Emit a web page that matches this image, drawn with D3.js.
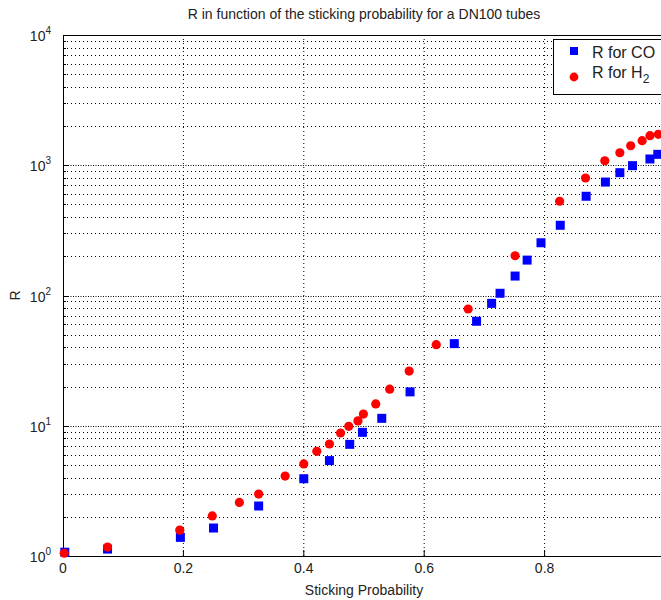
<!DOCTYPE html>
<html>
<head>
<meta charset="utf-8">
<script src="https://cdn.jsdelivr.net/npm/d3@7"></script>
<style>
  body { margin: 0; background: #fff; }
  svg text { font-family: "Liberation Sans", Arial, sans-serif; fill: #222; }
</style>
</head>
<body>
<div id="chart"></div>
<script>
// sticking probability / R values
const coX = [0.003, 0.074, 0.195, 0.25, 0.325, 0.4, 0.4426, 0.4763, 0.4974, 0.5295, 0.5765,
  0.65, 0.687, 0.712, 0.726, 0.751, 0.771, 0.794, 0.826, 0.869, 0.901, 0.925, 0.946, 0.975, 0.988]
const coR = [1.07, 1.13, 1.39, 1.64, 2.42, 3.92, 5.4, 7.2, 8.9, 11.4, 18.2,
  42.7, 63.4, 87, 104, 141, 187, 254, 346, 578, 743, 877, 993, 1117, 1213]

const h2X = [0.002, 0.074, 0.194, 0.248, 0.293, 0.325, 0.369, 0.4, 0.4216, 0.4426, 0.461, 0.4747,
  0.49, 0.499, 0.5195, 0.5427, 0.575, 0.62, 0.673, 0.751, 0.825, 0.868, 0.9, 0.925, 0.943, 0.962, 0.975, 0.989]
const h2R = [1.05, 1.17, 1.58, 2.03, 2.58, 2.99, 4.11, 5.09, 6.36, 7.24, 8.8, 9.9,
  10.9, 12.3, 14.7, 19.1, 26.3, 41.9, 78.8, 202, 529, 798, 1083, 1247, 1412, 1545, 1686, 1729]

// the "1" tick sits past the right edge of the picture, so only its grid line is drawn
const xTicks = [0, 0.2, 0.4, 0.6, 0.8, 1]
const xTickLabels = ["0", "0.2", "0.4", "0.6", "0.8", ""]
const yDecades = [0, 1, 2, 3, 4]

const seriesNames = ["R for CO", "R for H"]
const title = "R in function of the sticking probability for a DN100 tubes"

const width = 661, height = 600
const margin = { left: 63, top: 35, right: -4, bottom: 44 }

const svg = d3.select("#chart").append("svg")
  .attr("width", width)
  .attr("height", height)

const x = d3.scaleLinear().domain([0, 1]).range([margin.left, width - margin.right])
const y = d3.scaleLog().domain([1, 10000]).range([height - margin.bottom, margin.top])

// grid: vertical at major x ticks, horizontal at every decade and minor tick
let minor = []
yDecades.slice(0, -1).forEach(d => {
  for (let k = 2; k <= 9; k++) minor.push(k * Math.pow(10, d))
})

const grid = svg.append("g")
grid.selectAll(".vgrid").data(xTicks.slice(1))
  .enter().append("line")
  .attr("x1", d => x(d)).attr("x2", d => x(d))
  .attr("y1", y(1)).attr("y2", y(10000))
  .attr("stroke", "#000").attr("stroke-width", 1)
  .attr("stroke-dasharray", "1,3")

grid.selectAll(".hminor").data(minor)
  .enter().append("line")
  .attr("x1", x(0)).attr("x2", x(1))
  .attr("y1", d => Math.round(y(d)) + 0.5).attr("y2", d => Math.round(y(d)) + 0.5)
  .attr("stroke", "#000").attr("stroke-width", 1)
  .attr("stroke-dasharray", "1,3")

grid.selectAll(".hmajor").data(yDecades.slice(1, -1))
  .enter().append("line")
  .attr("x1", x(0)).attr("x2", x(1))
  .attr("y1", d => Math.round(y(Math.pow(10, d))) + 0.5).attr("y2", d => Math.round(y(Math.pow(10, d))) + 0.5)
  .attr("stroke", "#000").attr("stroke-width", 1)
  .attr("stroke-dasharray", "1,1.5")

// inner tick marks on the y axis
svg.append("g").selectAll("line").data(minor)
  .enter().append("line")
  .attr("x1", x(0)).attr("x2", x(0) + 3)
  .attr("y1", d => Math.round(y(d)) + 0.5).attr("y2", d => Math.round(y(d)) + 0.5)
  .attr("stroke", "#000")
svg.append("g").selectAll("line").data(yDecades)
  .enter().append("line")
  .attr("x1", x(0)).attr("x2", x(0) + 6)
  .attr("y1", d => Math.round(y(Math.pow(10, d))) + 0.5).attr("y2", d => Math.round(y(Math.pow(10, d))) + 0.5)
  .attr("stroke", "#000")
svg.append("g").selectAll("line").data(xTicks)
  .enter().append("line")
  .attr("x1", d => x(d)).attr("x2", d => x(d))
  .attr("y1", y(1)).attr("y2", y(1) - 6)
  .attr("stroke", "#000")

// frame
svg.append("rect")
  .attr("x", x(0) + 0.5).attr("y", y(10000) + 0.5)
  .attr("width", x(1) - x(0)).attr("height", y(1) - y(10000))
  .attr("fill", "none").attr("stroke", "#000").attr("stroke-width", 1)

// x tick labels
svg.append("g").selectAll("text").data(xTicks.filter((d, i) => xTickLabels[i]))
  .enter().append("text")
  .attr("x", d => x(d)).attr("y", y(1) + 17)
  .attr("text-anchor", "middle")
  .attr("font-size", 14)
  .text((d, i) => xTickLabels[i])

// y tick labels: 10^n
const yl = svg.append("g").selectAll("text").data(yDecades)
  .enter().append("text")
  .attr("x", x(0) - 12).attr("y", d => y(Math.pow(10, d)) + 6)
  .attr("text-anchor", "end")
  .attr("font-size", 14)
yl.append("tspan").text("10")
yl.append("tspan").attr("dy", -7).attr("font-size", 10).text(d => d)

// axis titles
svg.append("text")
  .attr("x", (x(0) + x(1)) / 2).attr("y", 19)
  .attr("text-anchor", "middle").attr("font-size", 14)
  .text(title)

svg.append("text")
  .attr("x", (x(0) + x(1)) / 2).attr("y", 595)
  .attr("text-anchor", "middle").attr("font-size", 14)
  .text("Sticking Probability")

svg.append("text")
  .attr("transform", `translate(20,${y(100)}) rotate(-90)`)
  .attr("text-anchor", "middle").attr("font-size", 14)
  .text("R")

// data
const sq = 9
svg.append("g").selectAll("rect").data(coX)
  .enter().append("rect")
  .attr("x", d => x(d) - sq / 2)
  .attr("y", (d, i) => y(coR[i]) - sq / 2)
  .attr("width", sq).attr("height", sq)
  .attr("fill", "#0000ff")

svg.append("g").selectAll("circle").data(h2X)
  .enter().append("circle")
  .attr("cx", d => x(d))
  .attr("cy", (d, i) => y(h2R[i]))
  .attr("r", 4.6)
  .attr("fill", "#ff0000")

// legend
const lg = svg.append("g")
lg.append("rect")
  .attr("x", 553.5).attr("y", 39.5).attr("width", 120).attr("height", 55)
  .attr("fill", "#fff").attr("stroke", "#000")
lg.append("rect")
  .attr("x", 574 - 4).attr("y", 51 - 4).attr("width", 8).attr("height", 8)
  .attr("fill", "#0000ff")
lg.append("circle")
  .attr("cx", 574).attr("cy", 77).attr("r", 4.4)
  .attr("fill", "#ff0000")
lg.append("text")
  .attr("x", 592).attr("y", 58).attr("font-size", 16)
  .text(seriesNames[0])
const t2 = lg.append("text")
  .attr("x", 592).attr("y", 78).attr("font-size", 16)
t2.append("tspan").text(seriesNames[1])
t2.append("tspan").attr("dy", 5).attr("font-size", 12).text("2")
</script>
</body>
</html>
